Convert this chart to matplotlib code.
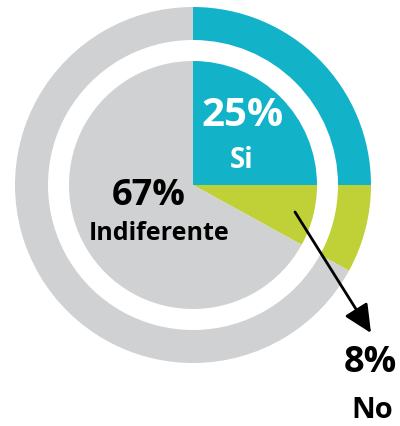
import matplotlib
matplotlib.use("Agg")
import matplotlib.pyplot as plt

categories = ["Si", "No", "Indiferente"]
values = [25, 8, 67]
colors = ["#12B3C9", "#BFD136", "#D0D1D3"]

W, H = 400, 426
fig = plt.figure(figsize=(W / 100, H / 100), dpi=100)
ax = fig.add_axes([0, 0, 1, 1])

cx, cy = 193, H - 185
ax.pie(values, colors=colors, startangle=90, counterclock=False,
       radius=178, center=(cx, cy),
       wedgeprops=dict(width=33, linewidth=0))
ax.pie(values, colors=colors, startangle=90, counterclock=False,
       radius=124, center=(cx, cy),
       wedgeprops=dict(linewidth=0))
ax.set_xlim(0, W)
ax.set_ylim(0, H)
ax.set_aspect("equal")
ax.axis("off")

fam = ["Open Sans", "DejaVu Sans"]
ax.text(243, H - 116, f"{values[0]}%", color="white", fontsize=29, fontweight="bold",
        ha="center", va="center", family=fam)
ax.text(242, H - 160, categories[0], color="white", fontsize=20, fontweight="bold",
        ha="center", va="center", family=fam)
ax.text(149, H - 196, f"{values[2]}%", color="black", fontsize=26, fontweight="bold",
        ha="center", va="center", family=fam)
ax.text(159, H - 233, categories[2], color="black", fontsize=18, fontweight="bold",
        ha="center", va="center", family=fam)
ax.text(370, H - 363, f"{values[1]}%", color="black", fontsize=26, fontweight="bold",
        ha="center", va="center", family=fam)
ax.text(372, H - 410, categories[1], color="black", fontsize=21, fontweight="bold",
        ha="center", va="center", family=fam)

ax.annotate("", xy=(371, H - 333), xytext=(295, H - 212),
            arrowprops=dict(arrowstyle="-|>,head_length=0.95,head_width=0.45",
                            mutation_scale=18, lw=2, color="black",
                            shrinkA=0, shrinkB=0))

fig.savefig("out.png", dpi=100)
